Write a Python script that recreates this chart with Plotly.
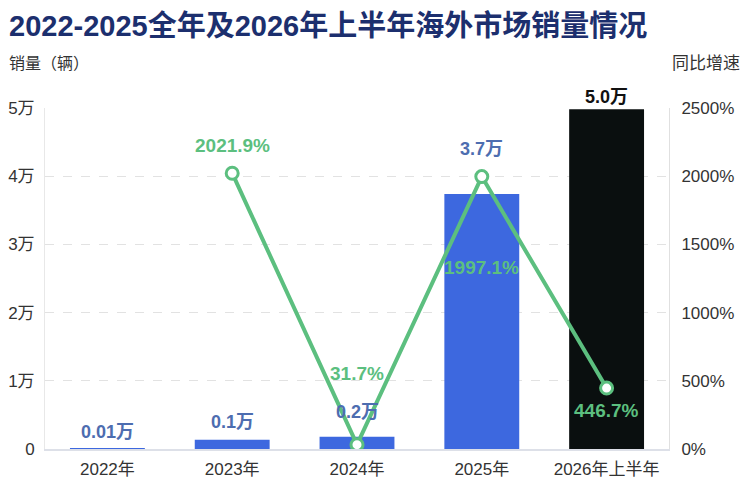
import plotly.graph_objects as go

categories = ["2022年", "2023年", "2024年", "2025年", "2026年上半年"]
sales_wan = [0.0065, 0.135, 0.178, 3.74, 4.98]
sales_labels = ["0.01万", "0.1万", "0.2万", "3.7万", "5.0万"]
growth_cats = ["2023年", "2024年", "2025年", "2026年上半年"]
growth_pct = [2021.9, 31.7, 1997.1, 446.7]
growth_labels = ["2021.9%", "31.7%", "1997.1%", "446.7%"]
left_ticks = [0, 1, 2, 3, 4, 5]
left_tick_text = ["0", "1万", "2万", "3万", "4万", "5万"]
right_ticks = [0, 500, 1000, 1500, 2000, 2500]
right_tick_text = [f"{v}%" for v in right_ticks]

FONT = "Liberation Sans, Noto Sans CJK SC, sans-serif"
CJK = "Noto Sans CJK SC, sans-serif"
BLUE = "#3d68df"
BLACK = "#0a0f0f"
GREEN = "#5cbf7f"

bar_colors = [BLUE, BLUE, BLUE, BLUE, BLACK]
bar_label_colors = ["#4d6db0", "#4d6db0", "#4d6db0", "#4d6db0", "#111111"]
bar_label_shift = [17, 18, 25, 45, 12]
growth_shift = [28, 71, -91, -22]

# page has an 8px body offset in the browser window
OFF = 8
W, H = 754, 499
L, T = 45 - OFF, 108 - OFF
R = W - (669 - OFF)
B = H - (449 - OFF)
pw, ph = W - L - R, H - T - B

def px(xp, yp):
    return (xp - OFF - L) / pw, (H - B - (yp - OFF)) / ph

fig = go.Figure()
fig.add_trace(go.Bar(
    x=categories, y=sales_wan, marker=dict(color=bar_colors, line=dict(width=0)),
    width=0.6, yaxis="y", hoverinfo="skip",
))
fig.add_trace(go.Scatter(
    x=growth_cats, y=growth_pct, yaxis="y2", mode="lines+markers",
    line=dict(color=GREEN, width=4),
    marker=dict(size=12, color="white", line=dict(color=GREEN, width=3)),
    hoverinfo="skip",
))

annotations = []
for c, v, t, col, s in zip(categories, sales_wan, sales_labels, bar_label_colors, bar_label_shift):
    annotations.append(dict(x=c, y=v, xref="x", yref="y", text=f"<b>{t}</b>",
                            showarrow=False, yshift=s,
                            font=dict(family=FONT, size=18, color=col)))
for c, v, t, s in zip(growth_cats, growth_pct, growth_labels, growth_shift):
    annotations.append(dict(x=c, y=v, xref="x", yref="y2", text=f"<b>{t}</b>",
                            showarrow=False, yshift=s,
                            font=dict(family=FONT, size=19, color=GREEN)))
tx, ty = px(7, 26)
annotations.append(dict(x=tx, y=ty, xref="paper", yref="paper", xanchor="left", yanchor="middle",
                        text="<b>2022-2025全年及2026年上半年海外市场销量情况</b>", showarrow=False,
                        font=dict(family=FONT, size=29, color="#1c2f6e")))
x1, y1 = px(7, 62)
x2, y2 = px(742, 62)
annotations.append(dict(x=x1, y=y1, xref="paper", yref="paper", xanchor="left",
                        yanchor="middle", text="销量（辆）", showarrow=False,
                        font=dict(family=CJK, size=16, color="#333")))
annotations.append(dict(x=x2, y=y2, xref="paper", yref="paper", xanchor="right",
                        yanchor="middle", text="同比增速", showarrow=False,
                        font=dict(family=CJK, size=17, color="#333")))

fig.update_layout(
    annotations=annotations,
    width=W, height=H, margin=dict(l=L, r=R, t=T, b=B, autoexpand=False),
    paper_bgcolor="white", plot_bgcolor="white", showlegend=False,
    xaxis=dict(type="category", tickfont=dict(family=FONT, size=17, color="#333"),
               showline=True, linecolor="#dde0e8", linewidth=2, ticks="",
               showgrid=False, ticklabelstandoff=4),
    yaxis=dict(range=[0, 5], tickvals=left_ticks, ticktext=left_tick_text,
               tickfont=dict(family=FONT, size=17, color="#333"),
               showgrid=True, gridcolor="#e2e2e2", griddash="dash",
               showline=True, linecolor="#e8e8e8", zeroline=False, ticks="",
               ticklabelstandoff=6),
    yaxis2=dict(range=[0, 2500], tickvals=right_ticks, ticktext=right_tick_text,
                overlaying="y", side="right",
                tickfont=dict(family=FONT, size=17, color="#333"),
                showgrid=False, showline=True, linecolor="#e0e0e0", zeroline=False,
                ticks="", ticklabelstandoff=8),
)
fig.write_html("out.html")
